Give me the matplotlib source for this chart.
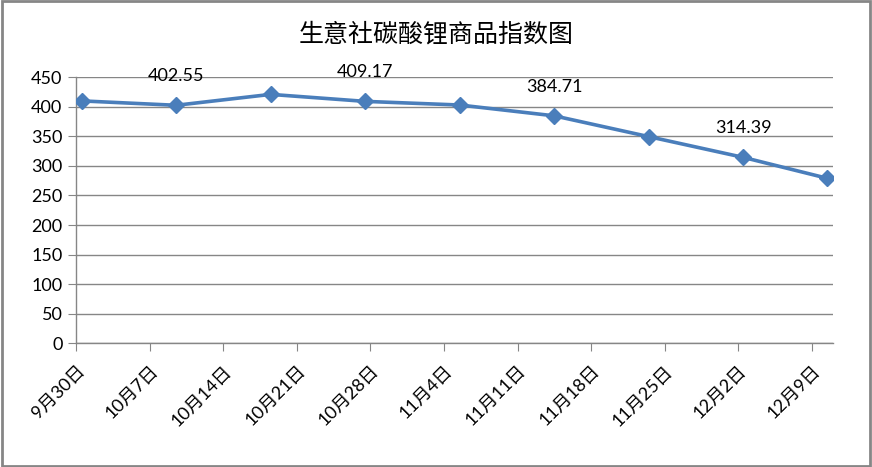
import numpy as np
import pandas as pd
import matplotlib
matplotlib.use("Agg")
import matplotlib.pyplot as plt

plt.rcParams['font.family'] = ['Lato', 'Noto Sans CJK SC', 'DejaVu Sans']

# data
dates = ["2023-09-30", "2023-10-09", "2023-10-18", "2023-10-27", "2023-11-05",
         "2023-11-14", "2023-11-23", "2023-12-02", "2023-12-10"]
values = [410.0, 402.55, 421.0, 409.17, 403.0, 384.71, 349.5, 314.39, 279.0]
labelled = [False, True, False, True, False, True, False, True, False]
tick_labels = ["9月30日", "10月7日", "10月14日", "10月21日", "10月28日", "11月4日",
               "11月11日", "11月18日", "11月25日", "12月2日", "12月9日"]
title = "生意社碳酸锂商品指数图"

start = pd.Timestamp("2023-09-30")
days = np.array([(pd.Timestamp(d) - start).days for d in dates]) + 0.5

fig = plt.figure(figsize=(8.72, 4.67), dpi=100)
ax = fig.add_axes([0.0875, 0.265, 0.8674, 0.5696])

grey = "#868686"
ax.plot(days, values, color="#4a7ebb", lw=2.6, marker="D", ms=8,
        markeredgecolor="#4a7ebb", zorder=3)

for x, v, show in zip(days, values, labelled):
    if show:
        ax.annotate(f"{v:.2f}", (x, v), xytext=(0, 21), textcoords="offset points",
                    ha="center", va="center", fontsize=13, color="black")

ax.set_xlim(0, 72)
ax.set_ylim(0, 450)
ax.set_yticks(np.arange(0, 451, 50))
ax.set_xticks(np.arange(0, 71, 7))
ax.set_xticklabels(tick_labels, rotation=45, ha="right", va="top",
                   rotation_mode="anchor", fontsize=13)
ax.tick_params(axis="y", labelsize=13, length=6, color=grey, pad=4)
ax.tick_params(axis="x", length=6, color=grey, pad=8)
ax.grid(axis="y", color=grey, lw=1)
ax.set_axisbelow(True)
for s in ["top", "right"]:
    ax.spines[s].set_visible(False)
for s in ["left", "bottom"]:
    ax.spines[s].set_color(grey)
    ax.spines[s].set_linewidth(1)

fig.text(0.5, 0.925, title, ha="center", va="center", fontsize=18,
         family=['Noto Sans CJK SC'])

# outer frame
fig.patches.append(plt.Rectangle((0.002, 0.003), 0.996, 0.994, transform=fig.transFigure,
                                 fill=False, edgecolor=grey, lw=2))

fig.savefig("out.png", dpi=100)
